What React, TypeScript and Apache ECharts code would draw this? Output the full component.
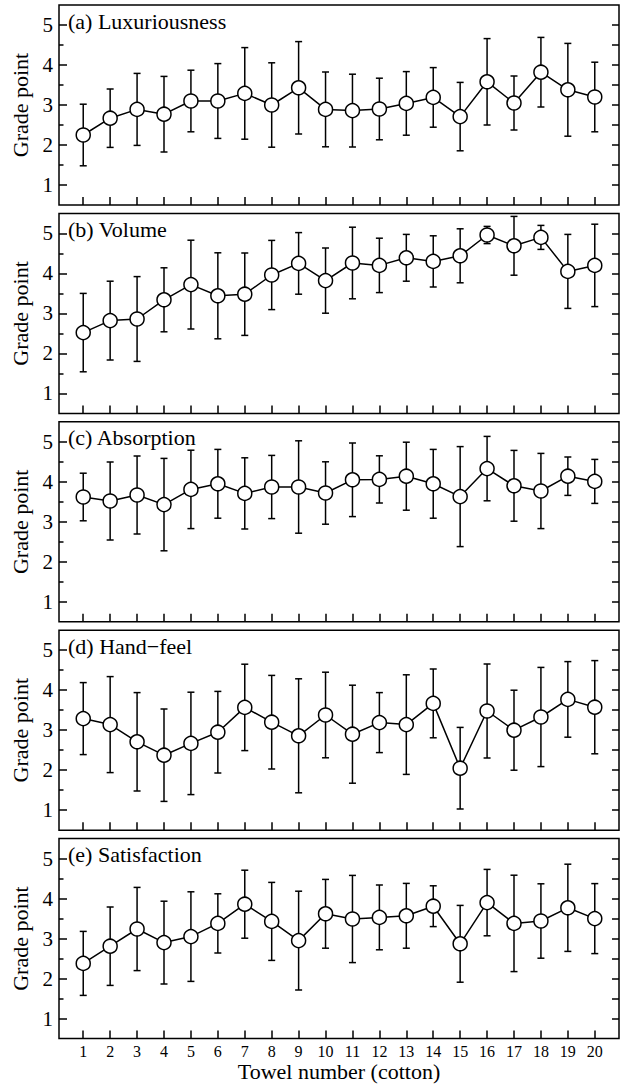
import React, { useEffect, useRef } from "react";
import * as echarts from "echarts";

const towels = [1, 2, 3, 4, 5, 6, 7, 8, 9, 10, 11, 12, 13, 14, 15, 16, 17, 18, 19, 20];
const yTicks = [1, 2, 3, 4, 5];
const yMinorTicks = [1.5, 2.5, 3.5, 4.5];
const yRightTicks = [1, 1.5, 2, 2.5, 3, 3.5, 4, 4.5, 5];

const luxMean = [2.25, 2.67, 2.89, 2.77, 3.1, 3.1, 3.29, 3.0, 3.43, 2.89, 2.86, 2.9, 3.04, 3.19, 2.71, 3.58, 3.05, 3.82, 3.38, 3.2];
const luxSd = [0.77, 0.73, 0.9, 0.945, 0.77, 0.935, 1.145, 1.055, 1.155, 0.935, 0.91, 0.77, 0.795, 0.745, 0.855, 1.08, 0.675, 0.87, 1.16, 0.87];

const volMean = [2.52, 2.82, 2.86, 3.34, 3.72, 3.44, 3.48, 3.96, 4.25, 3.82, 4.26, 4.2, 4.39, 4.3, 4.44, 4.96, 4.69, 4.9, 4.05, 4.2];
const volSd = [0.98, 0.985, 1.06, 0.8, 1.11, 1.075, 1.03, 0.865, 0.77, 0.815, 0.895, 0.68, 0.585, 0.64, 0.675, 0.215, 0.735, 0.3, 0.925, 1.03];

const absMean = [3.62, 3.52, 3.67, 3.43, 3.81, 3.95, 3.71, 3.87, 3.87, 3.72, 4.05, 4.06, 4.14, 3.95, 3.63, 4.33, 3.9, 3.77, 4.14, 4.01];
const absSd = [0.595, 0.975, 0.975, 1.155, 0.98, 0.86, 0.89, 0.79, 1.155, 0.78, 0.92, 0.59, 0.85, 0.86, 1.25, 0.805, 0.885, 0.94, 0.48, 0.55];

const handMean = [3.29, 3.14, 2.71, 2.375, 2.67, 2.95, 3.57, 3.2, 2.86, 3.38, 2.9, 3.19, 3.14, 3.67, 2.05, 3.48, 3.0, 3.33, 3.77, 3.575];
const handSd = [0.9, 1.2, 1.23, 1.155, 1.28, 1.02, 1.08, 1.17, 1.425, 1.07, 1.225, 0.75, 1.245, 0.86, 1.02, 1.175, 1.0, 1.24, 0.945, 1.165];

const satMean = [2.38, 2.81, 3.24, 2.9, 3.05, 3.38, 3.86, 3.43, 2.95, 3.62, 3.49, 3.53, 3.57, 3.81, 2.87, 3.9, 3.38, 3.44, 3.77, 3.5];
const satSd = [0.8, 0.98, 1.04, 1.035, 1.12, 0.74, 0.85, 0.975, 1.235, 0.86, 1.09, 0.81, 0.81, 0.51, 0.96, 0.83, 1.205, 0.93, 1.09, 0.875];

const panelLabels = ["(a) Luxuriousness", "(b) Volume", "(c) Absorption", "(d) Hand\u2212feel", "(e) Satisfaction"];
const panelMeans = [luxMean, volMean, absMean, handMean, satMean];
const panelSds = [luxSd, volSd, absSd, handSd, satSd];

const FONT = "Liberation Serif";

export default function App() {
  const ref = useRef<HTMLDivElement>(null);
  useEffect(() => {
    document.body.style.margin = "0";
    if (!ref.current) return;
    const chart = echarts.init(ref.current, undefined, { renderer: "svg" });

    const gridLeft = 59;
    const gridWidth = 560;
    const gridHeight = 200;
    const pitch = 208.4;
    const top0 = 5;
    const n = panelLabels.length;

    const grids: any[] = [];
    const xAxes: any[] = [];
    const yAxes: any[] = [];
    const series: any[] = [];
    const titles: any[] = [];

    for (let i = 0; i < n; i++) {
      const top = top0 + i * pitch;
      const last = i === n - 1;
      grids.push({
        left: gridLeft,
        top,
        width: gridWidth,
        height: gridHeight,
        show: true,
        borderColor: "#000",
        borderWidth: 1.5,
        backgroundColor: "transparent",
      });
      titles.push({
        text: panelLabels[i],
        left: 68,
        top: top + 5,
        padding: 0,
        textStyle: { fontFamily: FONT, fontSize: 22, fontWeight: "normal", color: "#000" },
      });
      xAxes.push({
        type: "value",
        gridIndex: i,
        min: 0.1,
        max: 20.9,
        axisLine: { show: false },
        splitLine: { show: false },
        axisTick: {
          show: true,
          inside: true,
          length: 8,
          customValues: towels,
          lineStyle: { color: "#000", width: 1.5 },
        },
        axisLabel: {
          show: last,
          customValues: towels,
          margin: 5,
          fontFamily: FONT,
          fontSize: 16,
          color: "#000",
        },
        name: last ? "Towel number (cotton)" : "",
        nameLocation: "middle",
        nameGap: 22,
        nameTextStyle: { fontFamily: FONT, fontSize: 22, color: "#000" },
      });
      // main left axis
      yAxes.push({
        type: "value",
        gridIndex: i,
        position: "left",
        min: 0.5,
        max: 5.5,
        axisLine: { show: false },
        splitLine: { show: false },
        axisTick: {
          show: true,
          inside: true,
          length: 8,
          customValues: yTicks,
          lineStyle: { color: "#000", width: 1.5 },
        },
        axisLabel: {
          show: true,
          customValues: yTicks,
          margin: 6,
          fontFamily: FONT,
          fontSize: 21,
          color: "#000",
        },
        name: "Grade point",
        nameLocation: "middle",
        nameGap: 25,
        nameTextStyle: { fontFamily: FONT, fontSize: 22, color: "#000" },
      });
      // minor left ticks
      yAxes.push({
        type: "value",
        gridIndex: i,
        position: "left",
        min: 0.5,
        max: 5.5,
        axisLine: { show: false },
        splitLine: { show: false },
        axisTick: {
          show: true,
          inside: true,
          length: 4.5,
          customValues: yMinorTicks,
          lineStyle: { color: "#000", width: 1.5 },
        },
        axisLabel: { show: false },
      });
      // right ticks
      yAxes.push({
        type: "value",
        gridIndex: i,
        position: "right",
        min: 0.5,
        max: 5.5,
        axisLine: { show: false },
        splitLine: { show: false },
        axisTick: {
          show: true,
          inside: true,
          length: 7,
          customValues: yRightTicks,
          lineStyle: { color: "#000", width: 1.5 },
        },
        axisLabel: { show: false },
      });

      const means = panelMeans[i];
      const sds = panelSds[i];
      const errData = towels.map((t, k) => [t, means[k] - sds[k], means[k] + sds[k]]);
      const lineData = towels.map((t, k) => [t, means[k]]);

      series.push({
        type: "custom",
        xAxisIndex: i,
        yAxisIndex: i * 3,
        z: 2,
        encode: { x: 0, y: [1, 2] },
        data: errData,
        renderItem: (params: any, api: any) => {
          const x = api.value(0);
          const lo = api.coord([x, api.value(1)]);
          const hi = api.coord([x, api.value(2)]);
          const w = 3.5;
          const style = { stroke: "#000", lineWidth: 1.5 };
          return {
            type: "group",
            children: [
              { type: "line", shape: { x1: lo[0], y1: lo[1], x2: hi[0], y2: hi[1] }, style },
              { type: "line", shape: { x1: lo[0] - w, y1: lo[1], x2: lo[0] + w, y2: lo[1] }, style },
              { type: "line", shape: { x1: hi[0] - w, y1: hi[1], x2: hi[0] + w, y2: hi[1] }, style },
            ],
          };
        },
      });
      series.push({
        type: "line",
        xAxisIndex: i,
        yAxisIndex: i * 3,
        z: 5,
        data: lineData,
        symbol: "circle",
        symbolSize: 14,
        showSymbol: true,
        lineStyle: { color: "#000", width: 1.5 },
        itemStyle: { color: "#fff", borderColor: "#000", borderWidth: 1.5 },
      });
    }

    chart.setOption({
      animation: false,
      backgroundColor: "#fff",
      title: titles,
      grid: grids,
      xAxis: xAxes,
      yAxis: yAxes,
      series,
    });
    return () => chart.dispose();
  }, []);
  return <div ref={ref} style={{ width: 625, height: 1086 }} />;
}
